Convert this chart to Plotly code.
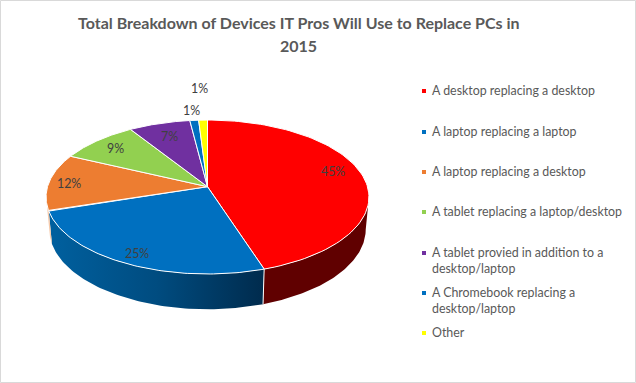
import numpy as np
import plotly.graph_objects as go

categories = ["A desktop replacing a desktop", "A laptop replacing a laptop", "A laptop replacing a desktop",
              "A tablet replacing a laptop/desktop", "A tablet provied in addition to a<br>desktop/laptop",
              "A Chromebook replacing a<br>desktop/laptop", "Other"]
values = [45, 25, 12, 9, 7, 1, 1]
title_lines = ["Total Breakdown of Devices IT Pros Will Use to Replace PCs in", "2015"]

colors = ["#FF0000", "#0070C0", "#ED7D31", "#92D050", "#7030A0", "#0070C0", "#FFFF00"]
legend_y = [91, 132, 172, 212, 253, 293, 333]
label_x = [333, 137, 69, 115, 169, 191, 199]
label_y = [171, 253, 183, 148, 136, 110, 88]
title_y = [22, 45]

# projection of the tilted pie, in image pixels
CX, CY, R, H, K, DEPTH, SHRINK = 207.5, 186.7, 160, 75.6, 0.134, 32, 0.98
TEXT = "#595959"


def top(t):
    t = np.radians(t)
    p = 1 / (1 + K * np.cos(t))
    return CX + R * np.sin(t) * p, CY - H * np.cos(t) * p


def bottom(t):
    t = np.radians(t)
    p = 1 / (1 + K * np.cos(t))
    return CX + SHRINK * R * np.sin(t) * p, CY - SHRINK * H * np.cos(t) * p + DEPTH * p


edges = np.concatenate([[0], np.cumsum(values)]) * 3.6
vis_a = np.degrees(np.arccos(-K))
vis_b = 360 - vis_a

fig = go.Figure()


def wall(a, b, **kw):
    a, b = max(a, vis_a), min(b, vis_b)
    if b <= a:
        return
    t = np.linspace(a, b, 80)
    xt, yt = top(t)
    xb, yb = bottom(t[::-1])
    fig.add_trace(go.Scatter(x=np.r_[xt, xb], y=np.r_[yt, yb], mode="lines", fill="toself",
                             line=dict(width=0), hoverinfo="skip", **kw))


for i, v in enumerate(values):
    a, b = edges[i], edges[i + 1]
    if i == 0:
        wall(a, b, fillcolor="#600000")
    elif i == 1:
        wall(a, b, fillgradient=dict(type="horizontal",
                                     colorscale=[[0, "#00609F"], [0.5, "#004C80"], [1, "#002B4D"]]))
    else:
        wall(a, b, fillcolor="#F6C9A9")

# divider between the two side walls
xt, yt = top(edges[1])
xb, yb = bottom(edges[1])
fig.add_trace(go.Scatter(x=[xt, xb], y=[yt, yb], mode="lines", line=dict(color="white", width=1), hoverinfo="skip"))

for i, v in enumerate(values):
    t = np.linspace(edges[i], edges[i + 1], 90)
    x, y = top(t)
    fig.add_trace(go.Scatter(x=np.r_[CX, x, CX], y=np.r_[CY, y, CY], mode="lines", fill="toself",
                             fillcolor=colors[i], line=dict(color="white", width=1), name=categories[i],
                             hoverinfo="name"))

fig.add_trace(go.Scatter(x=[424] * len(values), y=legend_y, mode="markers",
                         marker=dict(symbol="square", size=4, color=colors), hoverinfo="skip"))

ann = []
for v, x, y in zip(values, label_x, label_y):
    ann.append(dict(x=x, y=y, text=f"{v}%", showarrow=False, xanchor="center", yanchor="middle",
                    font=dict(family="Lato", size=12.4, color="#404040")))
for c, y in zip(categories, legend_y):
    ann.append(dict(x=431, y=y - 9, text=c, showarrow=False, xanchor="left", yanchor="top", align="left",
                    font=dict(family="Lato", size=12.4, color=TEXT), borderpad=0))
for line, y in zip(title_lines, title_y):
    ann.append(dict(x=298.5, y=y, text=line, showarrow=False, xanchor="center", yanchor="middle", align="center",
                    font=dict(family="Lato", size=16, color=TEXT, weight="bold"), borderpad=0))

fig.update_layout(
    width=636, height=383, autosize=False, showlegend=False,
    margin=dict(l=0, r=0, t=0, b=0), paper_bgcolor="white", plot_bgcolor="white",
    xaxis=dict(range=[0, 636], visible=False, fixedrange=True),
    yaxis=dict(range=[383, 0], visible=False, fixedrange=True),
    annotations=ann,
    shapes=[dict(type="rect", x0=0.5, x1=635.5, y0=0.5, y1=382.5, line=dict(color="#D9D9D9", width=1))],
)
fig.write_html("out.html", config=dict(displayModeBar=False),
               post_script="document.body.style.margin='0';document.documentElement.style.overflow='hidden';")
